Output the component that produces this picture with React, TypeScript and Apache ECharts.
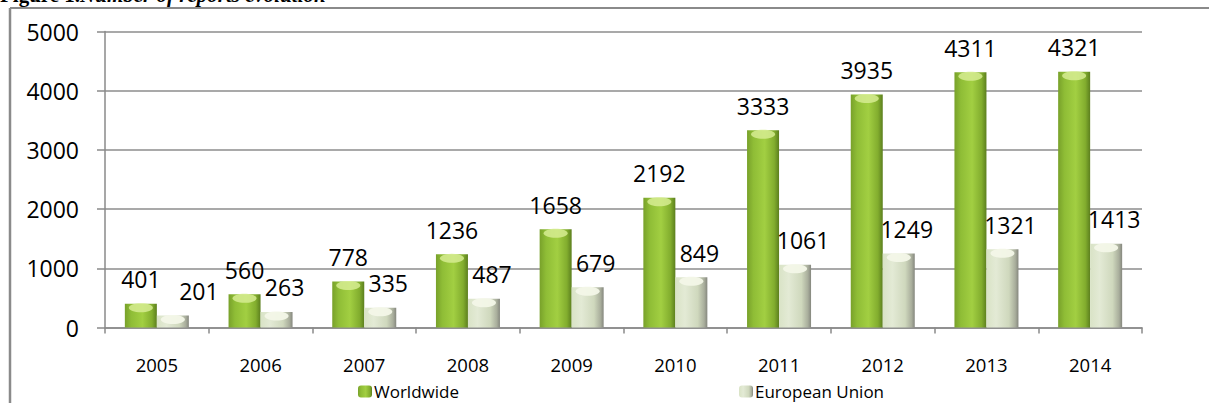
import React, { useEffect, useRef } from "react";
import * as echarts from "echarts";

const categories = ["2005", "2006", "2007", "2008", "2009", "2010", "2011", "2012", "2013", "2014"];
const worldwide = [401, 560, 778, 1236, 1658, 2192, 3333, 3935, 4311, 4321];
const europeanUnion = [201, 263, 335, 487, 679, 849, 1061, 1249, 1321, 1413];
const yTicks = { min: 0, max: 5000, interval: 1000 };
const seriesNames = ["Worldwide", "European Union"];

const FONT = "'Open Sans', sans-serif";

export default function App() {
  const ref = useRef<HTMLDivElement>(null);
  useEffect(() => {
    if (!ref.current) return;
    const chart = echarts.init(ref.current, undefined, { renderer: "svg" });
    const wwColor = new echarts.graphic.LinearGradient(0, 0, 1, 0, [
      { offset: 0, color: "#78a12a" },
      { offset: 0.2, color: "#8fbd36" },
      { offset: 0.55, color: "#a2cf42" },
      { offset: 0.85, color: "#82ad2e" },
      { offset: 1, color: "#5c7f1e" },
    ]);
    const euColor = new echarts.graphic.LinearGradient(0, 0, 1, 0, [
      { offset: 0, color: "#d9e3c6" },
      { offset: 0.3, color: "#e3ead5" },
      { offset: 0.7, color: "#cfd8bd" },
      { offset: 0.9, color: "#a9ae9c" },
      { offset: 1, color: "#85877e" },
    ]);
    const capData = categories.map((_, i) => [i, worldwide[i], europeanUnion[i]]);
    const legendText = { fontSize: 17, lineHeight: 16, fontFamily: FONT, color: "#000", padding: [0, 0, 0, -3] };
    chart.setOption({
      animation: false,
      backgroundColor: "#ffffff",
      textStyle: { fontFamily: FONT },
      grid: { left: 105, right: 67, top: 31.5, bottom: 75.5, containLabel: false },
      xAxis: {
        type: "category",
        data: categories,
        axisLine: { lineStyle: { color: "#8a8a8a", width: 1.5 } },
        axisTick: { show: true, length: 6, lineStyle: { color: "#8a8a8a", width: 1.5 } },
        axisLabel: { color: "#000", fontSize: 18.5, fontFamily: FONT, margin: 27 },
      },
      yAxis: {
        type: "value",
        min: yTicks.min,
        max: yTicks.max,
        interval: yTicks.interval,
        axisLine: { show: true, lineStyle: { color: "#8a8a8a", width: 1.5 } },
        axisTick: { show: true, length: 8, lineStyle: { color: "#8a8a8a", width: 1.5 } },
        splitLine: { show: true, lineStyle: { color: "#8c8c8c", width: 1.5 } },
        axisLabel: {
          color: "#000",
          fontSize: 23,
          fontFamily: FONT,
          margin: 26,
          formatter: (v: number) => String(v),
        },
      },
      legend: [
        {
          data: [seriesNames[0]],
          left: 358,
          top: 383,
          itemWidth: 14,
          itemHeight: 12,
          textStyle: legendText,
          padding: 0,
        },
        {
          data: [seriesNames[1]],
          left: 739,
          top: 383,
          itemWidth: 14,
          itemHeight: 12,
          textStyle: legendText,
          padding: 0,
        },
      ],
      series: [
        {
          name: seriesNames[0],
          type: "bar",
          data: worldwide,
          barWidth: 32,
          barGap: "0%",
          itemStyle: { color: wwColor },
          label: {
            show: true,
            position: "top",
            distance: 13,
            fontSize: 23,
            fontFamily: FONT,
            color: "#000",
          },
        },
        {
          name: seriesNames[1],
          type: "bar",
          data: europeanUnion.map((v, i) => ({
            value: v,
            label: { offset: [i === 0 ? 26 : 8, 0] },
          })),
          barWidth: 32,
          itemStyle: { color: euColor },
          label: {
            show: true,
            position: "top",
            distance: 13,
            fontSize: 23,
            fontFamily: FONT,
            color: "#000",
          },
        },
        {
          type: "custom",
          silent: true,
          z: 3,
          data: capData,
          encode: { x: 0, y: [1, 2] },
          renderItem: (params: any, api: any) => {
            const idx = api.value(0);
            const p1 = api.coord([idx, api.value(1)]);
            const p2 = api.coord([idx, api.value(2)]);
            return {
              type: "group",
              children: [
                {
                  type: "ellipse",
                  shape: { cx: p1[0] - 16, cy: p1[1] + 4, rx: 12, ry: 4.5 },
                  style: { fill: "#d6ec92", opacity: 0.85 },
                },
                {
                  type: "ellipse",
                  shape: { cx: p2[0] + 16, cy: p2[1] + 4, rx: 12, ry: 4.5 },
                  style: { fill: "#f3f7e8", opacity: 0.95 },
                },
              ],
            };
          },
        },
      ],
      graphic: [
        {
          type: "text",
          x: 0,
          y: 5,
          style: {
            text: "{b|Figure 1.}{i|Number of reports evolution}",
            verticalAlign: "bottom",
            rich: {
              b: { fontFamily: "'Liberation Serif', serif", fontWeight: "bold", fontSize: 21, fill: "#000" },
              i: { fontFamily: "'Liberation Serif', serif", fontStyle: "italic", fontWeight: "bold", fontSize: 21, fill: "#000" },
            },
          },
        },
        {
          type: "line",
          shape: { x1: 10, y1: 8, x2: 1209, y2: 8 },
          style: { stroke: "#8a8a8a", lineWidth: 2 },
        },
        {
          type: "line",
          shape: { x1: 10, y1: 8, x2: 10, y2: 403 },
          style: { stroke: "#8a8a8a", lineWidth: 2.5 },
        },
      ],
    });
    return () => chart.dispose();
  }, []);
  return (
    <div
      ref={ref}
      style={{ position: "absolute", left: 0, top: 0, width: 1209, height: 403 }}
    />
  );
}
